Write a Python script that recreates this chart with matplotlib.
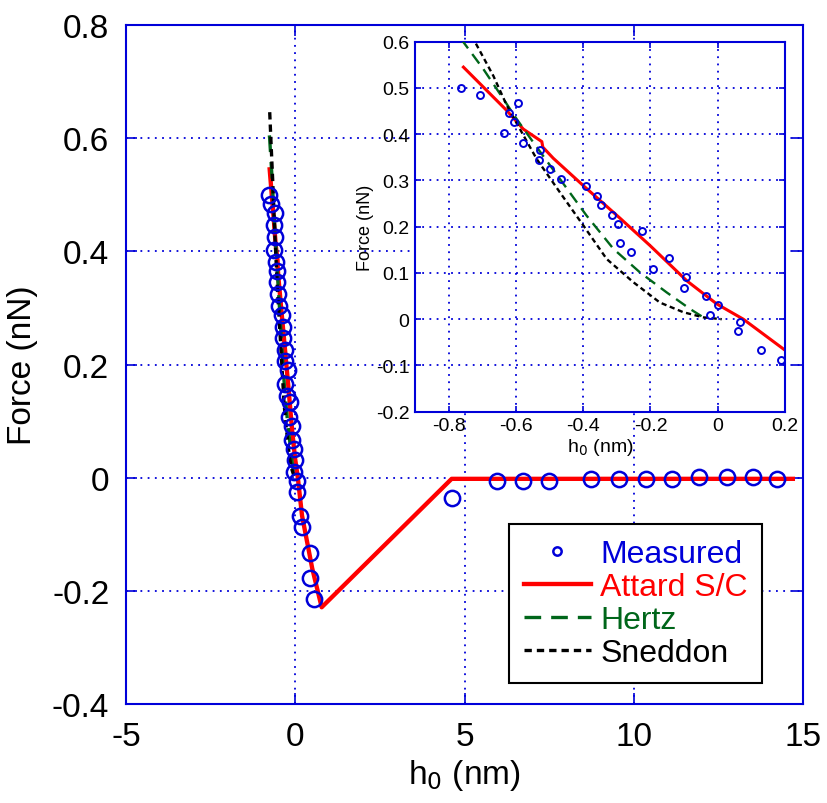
import matplotlib
matplotlib.use("Agg")
import matplotlib.pyplot as plt

plt.rcParams['font.family'] = ['Liberation Sans', 'DejaVu Sans']

# measured force curve (nm, nN)
meas_h = [-0.762, -0.706, -0.593, -0.621, -0.605, -0.634, -0.578, -0.527, -0.532,
          -0.499, -0.466, -0.393, -0.359, -0.348, -0.313, -0.297, -0.225, -0.291,
          -0.258, -0.146, -0.191, -0.095, -0.101, -0.034, 0.000, -0.023, 0.066,
          0.060, 0.129, 0.187, 0.44, 0.44, 0.55,
          4.62, 5.95, 6.74, 7.51, 8.74, 9.57, 10.36, 11.14, 11.94, 12.75, 13.51, 14.22]
meas_F = [0.500, 0.484, 0.468, 0.446, 0.426, 0.402, 0.381, 0.365, 0.345,
          0.324, 0.304, 0.288, 0.267, 0.247, 0.226, 0.206, 0.190, 0.165,
          0.145, 0.133, 0.108, 0.092, 0.067, 0.051, 0.031, 0.010, -0.005,
          -0.026, -0.067, -0.088, -0.133, -0.177, -0.214,
          -0.035, -0.005, -0.005, -0.005, -0.002, -0.002, -0.002, -0.002,
          0.001, 0.001, 0.001, -0.002]

# Attard S/C model
attard_h = [-0.756, -0.627, -0.578, -0.523, -0.520, -0.489, -0.400, -0.290, -0.201,
            -0.092, -0.003, 0.076, 0.200, 0.50, 0.78, 4.62, 14.7]
attard_F = [0.545, 0.451, 0.411, 0.384, 0.372, 0.348, 0.289, 0.218, 0.159,
            0.083, 0.033, 0.000, -0.067, -0.16, -0.229, -0.002, -0.002]

# Hertz model
hertz_h = [-0.765, -0.756, -0.697, -0.637, -0.598, -0.548, -0.469, -0.390, -0.310,
           -0.231, -0.152, -0.082, -0.043, -0.033]
hertz_F = [0.605, 0.599, 0.541, 0.476, 0.433, 0.382, 0.303, 0.224, 0.152,
           0.101, 0.058, 0.022, 0.004, 0.000]

# Sneddon model
sneddon_h = [-0.755, -0.722, -0.667, -0.627, -0.588, -0.538, -0.469, -0.399, -0.330,
             -0.251, -0.172, -0.102, -0.043, 0.012]
sneddon_F = [0.646, 0.600, 0.526, 0.462, 0.411, 0.346, 0.274, 0.202, 0.130,
             0.080, 0.036, 0.015, 0.004, 0.000]

blue = (0, 0, 0.85)
green = (0.0, 0.4, 0.1)

fig = plt.figure(figsize=(8.28, 8.04), dpi=100)
ax = fig.add_axes([0.1522, 0.1231, 0.8176, 0.8445])


def draw(a, lw, ms, mew):
    a.plot(attard_h, attard_F, color='red', lw=lw * 1.3, label='Attard S/C', zorder=2)
    a.plot(hertz_h, hertz_F, color=green, lw=lw, dashes=(5, 3), label='Hertz', zorder=3)
    a.plot(sneddon_h, sneddon_F, color='black', lw=lw, dashes=(2.2, 1.5), label='Sneddon', zorder=4)
    a.plot(meas_h, meas_F, 'o', color=blue, mfc='none', ms=ms, mew=mew,
           label='Measured', zorder=5)


def style(a, fs, tl):
    for s in a.spines.values():
        s.set_color(blue)
        s.set_linewidth(1.5)
    a.tick_params(direction='in', top=True, right=True, color=blue,
                  labelsize=fs, length=tl, width=1.2)
    a.grid(True, color=blue, linestyle=(0, (1, 3)), linewidth=1.3)
    a.set_axisbelow(True)


draw(ax, 2.4, 11, 1.8)
style(ax, 24, 8)
ax.tick_params(pad=12)
ax.set_xlim(-5, 15)
ax.set_ylim(-0.4, 0.8)
ax.set_xticks([-5, 0, 5, 10, 15])
ax.set_yticks([-0.4, -0.2, 0, 0.2, 0.4, 0.6, 0.8])
ax.set_yticklabels(['-0.4', '-0.2', '0', '0.2', '0.4', '0.6', '0.8'])
ax.set_xticklabels(['-5', '0', '5', '10', '15'])
ax.set_xlabel('h$_0$ (nm)', fontsize=24, labelpad=4)
ax.set_ylabel('Force (nN)', fontsize=24, labelpad=10)

handles, labels = ax.get_legend_handles_labels()
order = [3, 0, 1, 2]
leg = ax.legend([handles[i] for i in order], [labels[i] for i in order],
                loc='center', bbox_to_anchor=(0.753, 0.148), fontsize=23,
                fancybox=False, framealpha=1, edgecolor='black',
                handlelength=2.1, labelspacing=0.1, borderpad=0.45,
                handletextpad=0.3)
leg.get_frame().set_linewidth(1.5)
leg.legend_handles[0].set_markersize(6)
for t, c in zip(leg.get_texts(), [blue, 'red', green, 'black']):
    t.set_color(c)

# inset zoom
ins = fig.add_axes([0.5012, 0.4867, 0.4469, 0.4602])
draw(ins, 1.7, 5, 1.4)
style(ins, 14, 4)
ins.tick_params(pad=4)
ins.set_xlim(-0.9, 0.2)
ins.set_ylim(-0.2, 0.6)
ins.set_xticks([-0.8, -0.6, -0.4, -0.2, 0, 0.2])
ins.set_xticklabels(['-0.8', '-0.6', '-0.4', '-0.2', '0', '0.2'])
ins.set_yticks([-0.2, -0.1, 0, 0.1, 0.2, 0.3, 0.4, 0.5, 0.6])
ins.set_yticklabels(['-0.2', '-0.1', '0', '0.1', '0.2', '0.3', '0.4', '0.5', '0.6'])
ins.set_xlabel('h$_0$ (nm)', fontsize=14, labelpad=1)
ins.set_ylabel('Force (nN)', fontsize=13, labelpad=1)

fig.savefig('out.png', dpi=100)
